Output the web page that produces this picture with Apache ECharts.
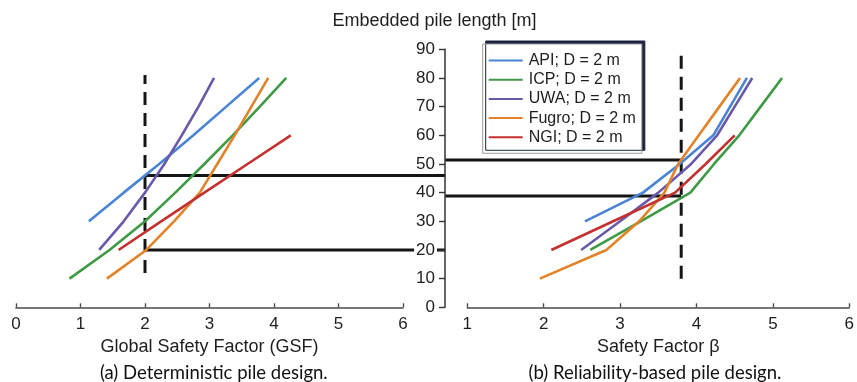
<!DOCTYPE html>
<html><head><meta charset="utf-8">
<script src="https://cdn.jsdelivr.net/npm/echarts@6/dist/echarts.min.js"></script>
<style>html,body{margin:0;padding:0;background:#fff}#c{width:857px;height:382px}</style>
</head><body><div id="c"></div>
<script>
// ---- data ----
const methods = ['API; D = 2 m', 'ICP; D = 2 m', 'UWA; D = 2 m', 'Fugro; D = 2 m', 'NGI; D = 2 m'];
const colors = ['#4a84d6', '#3f9a46', '#6a58aa', '#e2832a', '#c3302f'];

// (a) deterministic: GSF vs embedded length
const lenApiA = [30, 40, 50, 60, 70, 80];
const gsfApi = [1.13, 1.67, 2.22, 2.75, 3.26, 3.77];
const lenIcpA = [10, 20, 30, 40, 50, 60, 70, 80];
const gsfIcp = [0.83, 1.45, 2.0, 2.47, 2.92, 3.36, 3.78, 4.19];
const lenUwaA = [20, 30, 40, 50, 60, 70, 80];
const gsfUwa = [1.29, 1.67, 2.0, 2.3, 2.57, 2.83, 3.07];
const lenFugroA = [10, 20, 30, 40, 50, 60, 70, 80];
const gsfFugro = [1.41, 2.02, 2.45, 2.85, 3.12, 3.39, 3.65, 3.91];
const lenNgiA = [20, 30, 40, 50, 60];
const gsfNgi = [1.59, 2.25, 2.92, 3.59, 4.26];

// (b) reliability-based: beta vs embedded length
const lenApiB = [30, 40, 50, 60, 70, 80];
const betaApi = [2.54, 3.30, 3.78, 4.22, 4.44, 4.66];
const lenIcpB = [20, 30, 40, 50, 60, 70, 80];
const betaIcp = [2.61, 3.27, 3.92, 4.23, 4.56, 4.84, 5.12];
const lenUwaB = [20, 30, 40, 50, 60, 70, 80];
const betaUwa = [2.49, 3.0, 3.5, 3.93, 4.27, 4.50, 4.73];
const lenFugroB = [10, 20, 30, 40, 50, 60, 70, 80];
const betaFugro = [1.95, 2.82, 3.25, 3.58, 3.76, 4.03, 4.30, 4.57];
const lenNgiB = [20, 30, 40, 50, 60];
const betaNgi = [2.10, 2.91, 3.72, 4.12, 4.50];

// design references
const gsfDesign = 2;
const gsfDashRange = [12, 81];
const gsfLengths = [46, 20];
const betaTarget = 3.8;
const betaDashRange = [10, 90];
const betaLengths = [51.4, 38.8];
const gsfAtMiddleAxis = 6.656;   // where the shared length axis sits on the GSF scale
const betaAtMiddleAxis = 0.712;  // where the shared length axis sits on the beta scale

// axes
const gsfTicks = [0, 6, 1];
const betaTicks = [1, 6, 1];
const lenTicks = [0, 90, 10];

const captionA = '(a) Deterministic pile design.';
const captionB = '(b) Reliability-based pile design.';
const lenTitle = 'Embedded pile length [m]';

// ---- chart ----
const pair = (xs, ys) => xs.map((v, i) => [v, ys[i]]);
const FONT = 'Liberation Sans, Arial, sans-serif';
const TXT = '#1e1e1e';

const curvesA = [[gsfApi, lenApiA], [gsfIcp, lenIcpA], [gsfUwa, lenUwaA], [gsfFugro, lenFugroA], [gsfNgi, lenNgiA]];
const curvesB = [[betaApi, lenApiB], [betaIcp, lenIcpB], [betaUwa, lenUwaB], [betaFugro, lenFugroB], [betaNgi, lenNgiB]];

const series = [];
curvesA.forEach((c, i) => series.push({
  name: methods[i], type: 'line', xAxisIndex: 0, yAxisIndex: 0, data: pair(c[0], c[1]),
  symbol: 'none', lineStyle: { width: 2.6, color: colors[i] }, itemStyle: { color: colors[i] }, z: 3
}));
curvesB.forEach((c, i) => series.push({
  name: methods[i], type: 'line', xAxisIndex: 1, yAxisIndex: 1, data: pair(c[0], c[1]),
  symbol: 'none', lineStyle: { width: 2.6, color: colors[i] }, itemStyle: { color: colors[i] }, z: 3
}));
const dashLine = (xa, data) => ({
  type: 'line', xAxisIndex: xa, yAxisIndex: xa, data, symbol: 'none', silent: true,
  lineStyle: { width: 3, color: '#151515', type: [13, 8], cap: 'butt' }, z: 2
});
series.push(dashLine(0, [[gsfDesign, gsfDashRange[0]], [gsfDesign, gsfDashRange[1]]]));
series.push(dashLine(1, [[betaTarget, betaDashRange[0]], [betaTarget, betaDashRange[1]]]));
// horizontal design lines: rows [xStart, length, xEnd], positioned via the axes' own scales
const hLines = (gi, rows) => ({
  type: 'custom', xAxisIndex: gi, yAxisIndex: gi, data: rows, clip: false, silent: true, z: 2,
  encode: { x: [0, 2], y: 1 },
  renderItem: (params, api) => {
    const p1 = api.coord([api.value(0), api.value(1)]);
    const p2 = api.coord([api.value(2), api.value(1)]);
    return { type: 'line', shape: { x1: p1[0], y1: p1[1], x2: p2[0], y2: p2[1] },
             style: { stroke: '#151515', lineWidth: 3 } };
  }
});
series.push(hLines(0, gsfLengths.map(L => [gsfDesign, L, gsfAtMiddleAxis])));
series.push(hLines(1, betaLengths.map(L => [betaAtMiddleAxis, L, betaTarget])));

const xAxisCommon = (name) => ({
  type: 'value', name, nameLocation: 'middle', nameGap: 31,
  nameTextStyle: { fontSize: 18, color: TXT, fontFamily: FONT },
  axisLine: { show: true, lineStyle: { color: '#4a4a4a', width: 1.6 } },
  axisTick: { show: true, inside: true, length: 4, lineStyle: { color: '#4a4a4a', width: 1.4 } },
  axisLabel: { fontSize: 17, color: TXT, fontFamily: FONT, margin: 9 },
  splitLine: { show: false }
});

const option = {
  animation: false,
  backgroundColor: '#fff',
  grid: [
    { left: 16, top: 49.3, width: 387, height: 258 },
    { left: 467.3, top: 49.3, width: 386.7, height: 258 }
  ],
  xAxis: [
    Object.assign(xAxisCommon('Global Safety Factor (GSF)'), { gridIndex: 0, min: gsfTicks[0], max: gsfTicks[1], interval: gsfTicks[2] }),
    Object.assign(xAxisCommon('Safety Factor β'), { gridIndex: 1, min: betaTicks[0], max: betaTicks[1], interval: betaTicks[2] })
  ],
  yAxis: [
    { type: 'value', gridIndex: 0, min: lenTicks[0], max: lenTicks[1], interval: lenTicks[2], show: false },
    { type: 'value', gridIndex: 1, min: lenTicks[0], max: lenTicks[1], interval: lenTicks[2], position: 'left', offset: 22.3, z: 5,
      axisLine: { show: true, lineStyle: { color: '#333', width: 1.5 } },
      axisTick: { show: true, length: 6, lineStyle: { color: '#333', width: 1.4 } },
      axisLabel: { fontSize: 17, color: TXT, fontFamily: FONT, margin: 8, backgroundColor: '#fff', padding: [0, 2] },
      splitLine: { show: false } }
  ],
  legend: {
    data: methods, orient: 'vertical', left: 482.7, top: 44,
    backgroundColor: '#fff', borderColor: '#9a9a9a', borderWidth: 1,
    shadowColor: '#1c2540', shadowBlur: 0, shadowOffsetX: 3, shadowOffsetY: -3,
    padding: [8.5, 6, 8, 6], icon: 'rect', itemWidth: 34, itemHeight: 2, itemGap: 3.2,
    textStyle: { fontSize: 16, color: TXT, fontFamily: FONT, padding: [0, 0, 0, 1], lineHeight: 16 },
    selectedMode: false
  },
  graphic: [
    { type: 'text', x: 434.5, y: 21, style: { text: lenTitle, fill: TXT, font: '18px ' + FONT, textAlign: 'center', textVerticalAlign: 'middle' } },
    { type: 'text', x: 213.8, y: 373, style: { text: captionA, fill: '#111', font: '18.5px Lato, sans-serif', textAlign: 'center', textVerticalAlign: 'middle' } },
    { type: 'text', x: 655, y: 373, style: { text: captionB, fill: '#111', font: '18.5px Lato, sans-serif', textAlign: 'center', textVerticalAlign: 'middle' } }
  ],
  series
};
const chart = echarts.init(document.getElementById('c'), null, { renderer: 'canvas' });
chart.setOption(option);
</script></body></html>
